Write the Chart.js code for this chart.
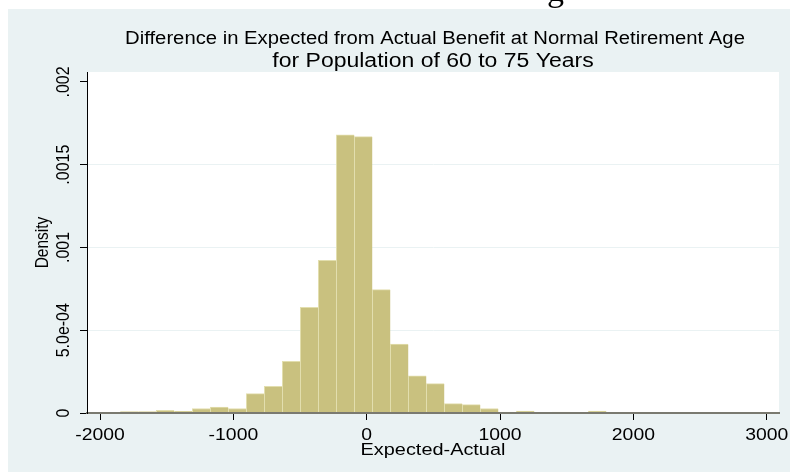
<!DOCTYPE html>
<html>
<head>
<meta charset="utf-8">
<script src="https://cdn.jsdelivr.net/npm/chart.js@4.4.0/dist/chart.umd.min.js"></script>
<style>
  html, body { margin: 0; padding: 0; background: #fff; }
  #wrap { width: 790px; height: 472px; position: relative; }
</style>
</head>
<body>
<div id="wrap"><canvas id="hist"></canvas></div>
<script>
// histogram bins (centres, width 135) and their density
var binCenters = [-1780.5, -1645.5, -1510.5, -1375.5, -1240.5, -1105.5, -970.5, -835.5,
  -700.5, -565.5, -430.5, -295.5, -160.5, -25.5, 109.5, 244.5, 379.5, 514.5, 649.5,
  784.5, 919.5, 1054.5, 1189.5, 1324.5, 1459.5, 1594.5, 1729.5, 1864.5, 1999.5,
  2134.5, 2269.5, 2404.5, 2539.5];
var densities = [0.0000085, 0.000008, 0.000016, 0.00001, 0.000027, 0.000036, 0.000027, 0.000117,
  0.000161, 0.000312, 0.000638, 0.000922, 0.00168, 0.00167, 0.000745, 0.000417, 0.000225, 0.000177, 0.000057,
  0.000051, 0.000027, 0.000006, 0.000012, 0.000004, 0.000005, 0, 0.000012, 0, 0,
  0.000003, 0, 0.000003, 0.000003];

var xTickValues = [-2000, -1000, 0, 1000, 2000, 3000];
var xTickLabels = ['-2000', '-1000', '0', '1000', '2000', '3000'];
var yTickValues = [0, 0.0005, 0.001, 0.0015, 0.002];
var yTickLabels = ['0', '5.0e-04', '.001', '.0015', '.002'];

var titleLines = ['Difference in Expected from Actual Benefit at Normal Retirement Age',
  'for Population of 60 to 75 Years'];
var xTitle = 'Expected-Actual';
var yTitle = 'Density';

var FONT = '"Liberation Sans", Arial, sans-serif';

// the exported graph is a bit stretched sideways, so text is too
function wideText(c, txt, x, y, size, sx, turned) {
  c.save();
  c.font = size + 'px ' + FONT;
  c.translate(x, y);
  c.scale(sx, 1);
  if (turned) c.rotate(-Math.PI / 2);
  c.fillText(txt, 0, 0);
  c.restore();
}

var stataLook = {
  id: 'stataLook',
  beforeDraw: function(chart) {
    var c = chart.ctx, a = chart.chartArea;
    c.save();
    c.fillStyle = '#ffffff';
    c.fillRect(0, 0, chart.width, chart.height);
    // bit of the page text above the graph
    c.save();
    c.beginPath();
    c.rect(0, 0, chart.width, 9);
    c.clip();
    c.fillStyle = '#000';
    c.font = '34px "Liberation Serif", serif';
    c.fillText('g', 547, 1);
    c.restore();
    c.fillStyle = '#eaf2f3';
    c.fillRect(8, 9, chart.width - 8, chart.height - 9);
    c.fillStyle = '#ffffff';
    c.fillRect(a.left, a.top, a.right - a.left, a.bottom - a.top);
    c.restore();
  },
  afterDraw: function(chart) {
    var c = chart.ctx, a = chart.chartArea;
    var xScale = chart.scales.x, yScale = chart.scales.y;
    var mid = (a.left + a.right) / 2;
    c.save();
    c.fillStyle = '#000';
    c.textAlign = 'center';
    c.textBaseline = 'alphabetic';

    wideText(c, titleLines[0], mid + 2, 44, 18, 1.125, false);
    wideText(c, titleLines[1], mid, 67, 20, 1.15, false);

    xTickValues.forEach(function(v, i) {
      wideText(c, xTickLabels[i], xScale.getPixelForValue(v), 440, 17, 1.14, false);
    });
    wideText(c, xTitle, mid, 455, 17, 1.17, false);

    yTickValues.forEach(function(v, i) {
      wideText(c, yTickLabels[i], 69, yScale.getPixelForValue(v), 16, 1.12, true);
    });
    wideText(c, yTitle, 48, (a.top + a.bottom) / 2, 15.5, 1.15, true);
    c.restore();
  }
};

window.onload = function() {
  var ctx = document.getElementById('hist');

  var points = binCenters.map(function(x, i) {
    return { x: x, y: densities[i] };
  });

  new Chart(ctx, {
    type: 'bar',
    data: {
      datasets: [{
        data: points,
        backgroundColor: 'rgb(201,193,127)',
        borderColor: 'rgb(226,222,174)',
        borderWidth: { top: 1, left: 1, right: 0, bottom: 0 },
        borderSkipped: false,
        barPercentage: 1,
        categoryPercentage: 1
      }]
    },
    options: {
      responsive: true,
      maintainAspectRatio: false,
      devicePixelRatio: 1,
      animation: false,
      layout: { padding: { left: 0, top: 72, right: 11, bottom: 0 } },
      plugins: {
        legend: { display: false },
        tooltip: { enabled: false },
        title: { display: false }
      },
      scales: {
        x: {
          type: 'linear',
          min: -2098,
          max: 3092,
          offset: false,
          afterFit: function(s) { s.height = 59; },
          afterBuildTicks: function(s) {
            s.ticks = xTickValues.map(function(v) { return { value: v }; });
          },
          grid: {
            offset: false,
            drawOnChartArea: false,
            drawTicks: true,
            tickLength: 7,
            tickColor: '#000',
            tickWidth: 1
          },
          border: { display: true, color: '#7a7a70', width: 2, z: 1 },
          ticks: { display: false }
        },
        y: {
          min: 0,
          max: 0.00206,
          afterFit: function(s) { s.width = 87; },
          afterBuildTicks: function(s) {
            s.ticks = yTickValues.map(function(v) { return { value: v }; });
          },
          grid: {
            color: function(c) {
              var v = c.tick ? c.tick.value : 0;
              return (v > 0 && v < 0.002) ? '#eaf2f3' : 'rgba(0,0,0,0)';
            },
            lineWidth: 1,
            drawTicks: true,
            tickLength: 7,
            tickColor: '#000',
            tickWidth: 1
          },
          border: { display: true, color: '#000', width: 1, z: 1 },
          ticks: { display: false }
        }
      }
    },
    plugins: [stataLook]
  });
};
</script>
</body>
</html>
